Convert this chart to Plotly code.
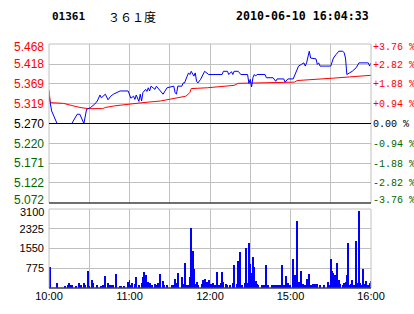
import plotly.graph_objects as go

# ---------------- data ----------------
prev_close = 5.270
price_levels = [5.072, 5.122, 5.171, 5.220, 5.270, 5.319, 5.369, 5.418, 5.468]
pct_labels = ["-3.76 %", "-2.82 %", "-1.88 %", "-0.94 %", "0.00 %",
              "+0.94 %", "+1.88 %", "+2.82 %", "+3.76 %"]

# minutes since 10:00 (trading minutes, lunch break removed)
price_time = [0, 2, 6, 17, 21, 23, 26, 28, 31, 34, 36, 38, 39, 42, 44, 46, 48, 50, 53, 59,
              61, 63, 64, 65, 67, 68, 69, 70, 72, 73, 74, 75, 76, 79, 80, 83, 85, 88, 93, 94,
              95, 96, 99, 100, 101, 103, 104, 105, 106, 108, 109, 110, 111, 113, 115, 116, 119, 129, 130, 133,
              134, 136, 137, 138, 141, 143, 148, 149, 150, 151, 152, 153, 154, 155, 161, 162, 167, 169, 170, 175,
              176, 178, 182, 184, 185, 186, 188, 190, 191, 192, 194, 195, 199, 200, 201, 202, 210, 211, 212, 214,
              216, 219, 220, 221, 222, 224, 226, 229, 231, 238, 239, 240]
price_val = [5.338, 5.301, 5.270, 5.270, 5.293, 5.293, 5.270, 5.305, 5.310, 5.318, 5.326, 5.341, 5.334, 5.343, 5.329, 5.338, 5.343, 5.347, 5.351, 5.351,
             5.333, 5.338, 5.330, 5.341, 5.325, 5.343, 5.326, 5.347, 5.355, 5.350, 5.359, 5.351, 5.363, 5.355, 5.363, 5.351, 5.343, 5.359, 5.363, 5.347,
             5.343, 5.363, 5.363, 5.371, 5.371, 5.388, 5.396, 5.392, 5.400, 5.388, 5.396, 5.375, 5.371, 5.380, 5.396, 5.400, 5.392, 5.392, 5.400, 5.400,
             5.392, 5.399, 5.392, 5.400, 5.400, 5.392, 5.392, 5.370, 5.380, 5.361, 5.384, 5.392, 5.388, 5.392, 5.392, 5.384, 5.384, 5.375, 5.381, 5.381,
             5.373, 5.381, 5.381, 5.396, 5.404, 5.413, 5.417, 5.421, 5.413, 5.421, 5.450, 5.433, 5.431, 5.417, 5.421, 5.413, 5.413, 5.421, 5.433, 5.442,
             5.450, 5.450, 5.446, 5.433, 5.392, 5.396, 5.400, 5.409, 5.421, 5.421, 5.413, 5.421]

avg_time = [0, 1, 11, 14, 18, 23, 29, 40, 42, 49, 58, 70, 83, 96, 102, 105, 106, 118, 128, 138,
            141, 183, 185, 202, 212, 224, 232, 240]
avg_val = [5.353, 5.322, 5.320, 5.318, 5.314, 5.310, 5.307, 5.307, 5.310, 5.314, 5.318, 5.322, 5.326, 5.334, 5.338, 5.347, 5.357, 5.359, 5.362, 5.365,
           5.370, 5.373, 5.377, 5.380, 5.383, 5.386, 5.388, 5.390]

vol_time = [0, 1, 6, 12, 14, 15, 16, 17, 20, 22, 24, 26, 27, 29, 30, 32, 33, 36, 39, 40,
            41, 42, 44, 45, 46, 48, 50, 53, 54, 56, 59, 60, 61, 62, 64, 65, 67, 69, 70, 71,
            72, 74, 75, 76, 77, 79, 80, 81, 83, 85, 86, 88, 92, 93, 94, 95, 96, 99, 100, 101,
            103, 104, 105, 106, 107, 108, 109, 110, 111, 114, 115, 116, 117, 118, 119, 121, 122, 123, 124, 125,
            127, 128, 129, 130, 132, 133, 135, 137, 138, 140, 141, 142, 143, 144, 146, 147, 148, 149, 150, 151,
            152, 153, 154, 155, 156, 159, 160, 162, 163, 166, 168, 169, 171, 172, 174, 175, 177, 178, 179, 180,
            182, 183, 184, 185, 186, 187, 188, 189, 190, 191, 192, 194, 195, 196, 197, 198, 199, 200, 202, 205,
            208, 209, 210, 211, 212, 213, 214, 215, 216, 217, 219, 220, 221, 222, 223, 224, 225, 226, 227, 229,
            230, 231, 232, 233, 234, 235, 236, 237, 238, 239, 240]
vol_val = [600, 810, 180, 90, 130, 180, 130, 130, 90, 180, 100, 180, 130, 650, 80, 300, 180, 130, 90, 100,
           110, 455, 180, 100, 100, 100, 560, 90, 90, 80, 235, 325, 130, 180, 150, 445, 100, 180, 420, 630,
           520, 235, 180, 130, 100, 150, 130, 180, 560, 260, 100, 100, 100, 100, 365, 180, 600, 420, 150, 995,
           100, 100, 420, 2370, 1440, 760, 150, 235, 100, 150, 325, 365, 180, 235, 325, 150, 180, 130, 130, 630,
           130, 180, 630, 235, 150, 100, 100, 180, 915, 150, 1045, 1415, 130, 100, 180, 1570, 180, 1780, 945, 575,
           1200, 810, 290, 150, 130, 100, 100, 890, 100, 100, 100, 130, 130, 100, 890, 100, 455, 180, 100, 100,
           1150, 495, 100, 2620, 235, 130, 680, 150, 100, 130, 365, 560, 100, 130, 150, 150, 100, 150, 100, 100,
           235, 130, 1150, 680, 600, 520, 100, 980, 325, 150, 130, 180, 235, 495, 1770, 100, 150, 300, 100, 1860,
           180, 3040, 180, 130, 760, 150, 290, 130, 100, 180, 290]

vol_levels = [0, 775, 1550, 2325, 3100]
grid_time = [0, 30, 60, 90, 120, 150, 180, 210, 240]
time_labels = ["10:00", "", "11:00", "", "12:00", "", "15:00", "", "16:00"]

title_code = "01361"
title_name = "３６１度"
title_stamp = "2010-06-10 16:04:33"

# ---------------- styling ----------------
RED = "#FF0000"
GREEN = "#006600"
BLACK = "#000000"
GRID = "#C0C0C0"
LEFT_FONT = dict(family="Liberation Sans", size=12)
RIGHT_FONT = dict(family="Liberation Mono", size=10)
VOL_FONT = dict(family="Liberation Sans", size=11, color=BLACK)

def level_color(v):
    if abs(v - prev_close) < 1e-9:
        return BLACK
    return RED if v > prev_close else GREEN

# interior labels go on the axes; the two end labels are nudged inward (as in the original)
left_text = ['<span style="color:%s">%.3f</span>' % (level_color(v), v) for v in price_levels]
right_text = ['<span style="color:%s">%s</span>' % (level_color(v), t) for v, t in zip(price_levels, pct_labels)]
left_axis_text = [""] + left_text[1:-1] + [""]
right_axis_text = [""] + right_text[1:-1] + [""]
vol_text = ["" if v == 0 else str(v) for v in vol_levels]
vol_axis_text = vol_text[:-1] + [""]

W, H = 414, 314
ML, MR, MT, MB = 49, 43, 44, 26
plot_h = H - MT - MB
price_bottom_px = 203
vol_top_px = 209
END_NUDGE = 3

def py(px_y):
    return (H - MB - px_y) / plot_h

def px_x(px):
    return (px - ML) / (W - ML - MR)

fig = go.Figure()
fig.add_trace(go.Scatter(x=avg_time, y=avg_val, mode="lines",
                         line=dict(color=RED, width=1), xaxis="x", yaxis="y", hoverinfo="skip"))
fig.add_trace(go.Scatter(x=price_time, y=price_val, mode="lines",
                         line=dict(color="#0000FF", width=1), xaxis="x", yaxis="y", hoverinfo="skip"))
fig.add_trace(go.Scatter(x=[price_time[0]], y=[prev_close], mode="markers",
                         marker=dict(opacity=0), xaxis="x", yaxis="y3", hoverinfo="skip"))
fig.add_trace(go.Bar(x=vol_time, y=vol_val, width=0.75, marker=dict(color="#0000FF", line=dict(width=0)),
                     xaxis="x2", yaxis="y2", hoverinfo="skip"))

axis_common = dict(showgrid=True, gridcolor=GRID, gridwidth=1, zeroline=False, showline=False,
                   ticks="", fixedrange=True, automargin=False)

fig.update_layout(
    width=W, height=H,
    margin=dict(l=ML, r=MR, t=MT, b=MB, pad=0, autoexpand=False),
    paper_bgcolor="white", plot_bgcolor="white",
    showlegend=False, hovermode=False,
    xaxis=dict(domain=[0, 1], range=[0, 240], anchor="y", tickvals=grid_time,
               showticklabels=False, **axis_common),
    yaxis=dict(domain=[py(price_bottom_px), 1], range=[price_levels[0], price_levels[-1]],
               anchor="x", tickvals=price_levels, ticktext=left_axis_text,
               tickfont=LEFT_FONT, ticklabelstandoff=4, **axis_common),
    yaxis3=dict(overlaying="y", side="right", anchor="x", range=[price_levels[0], price_levels[-1]],
                tickvals=price_levels, ticktext=right_axis_text, showgrid=False, zeroline=False,
                showline=False, ticks="", tickfont=RIGHT_FONT,
                ticklabelstandoff=1, fixedrange=True, automargin=False),
    xaxis2=dict(domain=[0, 1], range=[0, 240], anchor="y2", tickvals=grid_time, ticktext=time_labels,
                tickfont=dict(family="Liberation Sans", size=11, color=BLACK), **axis_common),
    yaxis2=dict(domain=[0, py(vol_top_px)], range=[vol_levels[0], vol_levels[-1]], anchor="x2",
                tickvals=vol_levels, ticktext=vol_axis_text,
                tickfont=VOL_FONT, ticklabelstandoff=4, **axis_common),
    bargap=0,
)

shapes = [
    dict(type="rect", xref="x domain", yref="y domain", x0=0, x1=1, y0=0, y1=1,
         line=dict(color=GRID, width=1), layer="above"),
    dict(type="line", xref="x domain", yref="y", x0=0, x1=1, y0=prev_close, y1=prev_close,
         line=dict(color=BLACK, width=1), layer="above"),
    dict(type="line", xref="x domain", yref="y domain", x0=0, x1=1, y0=0, y1=0,
         line=dict(color=BLACK, width=1), layer="above"),
    dict(type="rect", xref="x2 domain", yref="y2 domain", x0=0, x1=1, y0=0, y1=1,
         line=dict(color=GRID, width=1), layer="above"),
    dict(type="line", xref="x2 domain", yref="y2 domain", x0=0, x1=1, y0=0, y1=0,
         line=dict(color=BLACK, width=1), layer="above"),
]
fig.update_layout(shapes=shapes)

# end labels of the price axes (kept inside the panel)
for idx, shift in ((0, END_NUDGE), (-1, -END_NUDGE)):
    fig.add_annotation(text=left_text[idx], xref="x domain", yref="y", x=0, y=price_levels[idx],
                       xanchor="right", yanchor="middle", xshift=-3, yshift=shift, showarrow=False,
                       font=LEFT_FONT)
    fig.add_annotation(text=right_text[idx], xref="x domain", yref="y", x=1, y=price_levels[idx],
                       xanchor="left", yanchor="middle", xshift=0, yshift=shift, showarrow=False,
                       font=RIGHT_FONT)
fig.add_annotation(text=vol_text[-1], xref="x2 domain", yref="y2", x=0, y=vol_levels[-1],
                   xanchor="right", yanchor="middle", xshift=-3, yshift=-END_NUDGE, showarrow=False,
                   font=VOL_FONT)

fig.add_annotation(text="<b>%s</b>" % title_code, xref="paper", yref="paper",
                   x=px_x(50), y=py(16), xanchor="left", yanchor="middle", showarrow=False,
                   font=dict(family="DejaVu Sans Mono", size=11, color=BLACK))
fig.add_annotation(text=title_name, xref="paper", yref="paper",
                   x=px_x(106), y=py(16), xanchor="left", yanchor="middle", showarrow=False,
                   font=dict(family="Noto Sans CJK SC", size=12, color=BLACK))
fig.add_annotation(text="<b>%s</b>" % title_stamp, xref="paper", yref="paper",
                   x=px_x(371), y=py(16), xanchor="right", yanchor="middle", showarrow=False,
                   font=dict(family="DejaVu Sans Mono", size=11.6, color=BLACK))

fig.write_html("out.html")
